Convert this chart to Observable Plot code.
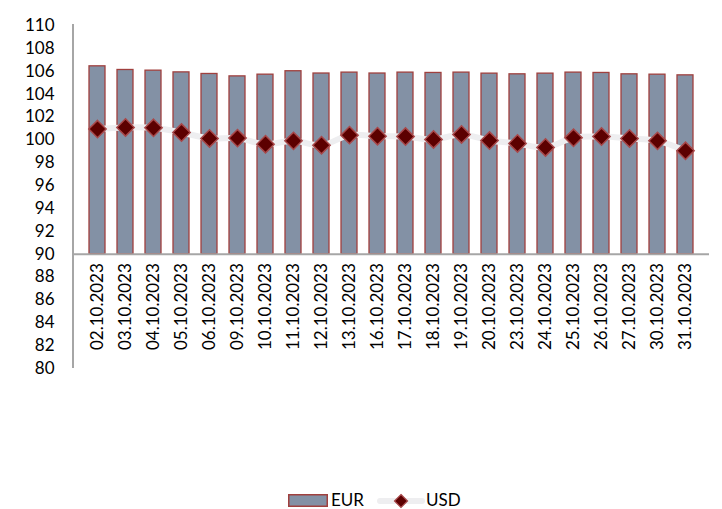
<!DOCTYPE html>
<html>
<head>
<meta charset="utf-8">
<script src="https://cdn.jsdelivr.net/npm/d3@7"></script>
<script src="https://cdn.jsdelivr.net/npm/@observablehq/plot@0.6"></script>
<style>
  html, body { margin: 0; padding: 0; background: #fff; }
  #wrap { position: relative; width: 722px; height: 509px; font-family: Lato, "Open Sans", sans-serif; }
  #legend { position: absolute; left: 0; top: 485px; }
</style>
</head>
<body>
<div id="wrap">
  <div id="chart"></div>
  <svg id="legend" width="722" height="24" font-family="Lato, 'Open Sans', sans-serif" font-size="17">
    <rect x="288.75" y="9.75" width="38.5" height="11.5" fill="#8391a5" stroke="#a0403e" stroke-width="1.5"></rect>
    <text x="331" y="21" fill="#000">EUR</text>
    <line x1="380" y1="16" x2="422" y2="16" stroke="#eeeef0" stroke-width="6" stroke-linecap="round"></line>
    <path d="M401,9.5 L407.5,16 L401,22.5 L394.5,16 Z" fill="#5c0000" stroke="#a8484a" stroke-width="1.2"></path>
    <text x="426" y="21" fill="#000">USD</text>
  </svg>
</div>
<script>
const dates = ["02.10.2023","03.10.2023","04.10.2023","05.10.2023","06.10.2023","09.10.2023","10.10.2023","11.10.2023","12.10.2023","13.10.2023","16.10.2023","17.10.2023","18.10.2023","19.10.2023","20.10.2023","23.10.2023","24.10.2023","25.10.2023","26.10.2023","27.10.2023","30.10.2023","31.10.2023"];
const eur = [106.43, 106.11, 106.05, 105.90, 105.76, 105.55, 105.70, 106.00, 105.80, 105.88, 105.80, 105.88, 105.85, 105.88, 105.79, 105.73, 105.79, 105.88, 105.85, 105.73, 105.70, 105.64];
const usd = [100.94, 101.08, 101.05, 100.64, 100.12, 100.15, 99.62, 99.91, 99.53, 100.41, 100.32, 100.29, 100.03, 100.47, 99.94, 99.68, 99.33, 100.18, 100.29, 100.12, 99.91, 99.04];
const yTicks = [80, 82, 84, 86, 88, 90, 92, 94, 96, 98, 100, 102, 104, 106, 108, 110];
const baseline = 90;

const data = dates.map((d, i) => ({date: d, eur: eur[i], usd: usd[i]}));

// vertical value-axis line at the left edge of the frame, spanning the full y range
function leftAxisLine(index, scales, values, dimensions) {
  const [y0, y1] = scales.y.range ? [scales.y(110), scales.y(80)] : [dimensions.marginTop, dimensions.height - dimensions.marginBottom];
  const x = dimensions.marginLeft;
  const line = document.createElementNS("http://www.w3.org/2000/svg", "line");
  line.setAttribute("x1", x); line.setAttribute("x2", x);
  line.setAttribute("y1", y0 - 1); line.setAttribute("y2", y1);
  line.setAttribute("stroke", "#a6a6a6");
  line.setAttribute("stroke-width", 2);
  return line;
}

const chart = Plot.plot({
  width: 722,
  height: 485,
  marginLeft: 73,
  marginRight: 13,
  marginTop: 25,
  marginBottom: 117,
  style: {fontFamily: "Lato, 'Open Sans', sans-serif", fontSize: "17px", color: "#000", background: "#fff"},
  x: {domain: dates, paddingInner: 0.42, paddingOuter: 0.21, axis: null},
  y: {domain: [80, 110]},
  marks: [
    Plot.barY(data, {x: "date", y1: () => baseline, y2: "eur", fill: "#8391a5", stroke: "#a0403e", strokeWidth: 1.3}),
    Plot.ruleY([baseline], {stroke: "#a6a6a6", strokeWidth: 2}),
    leftAxisLine,
    Plot.axisY({ticks: yTicks, tickSize: 0, tickPadding: 19, fontSize: 17, tickFormat: d => String(d)}),
    Plot.text(dates, {x: d => d, y: () => baseline, text: d => d, rotate: -90, textAnchor: "end", lineAnchor: "middle", dy: 9, fontSize: 17, fill: "#000"}),
    Plot.line(data, {x: "date", y: "usd", curve: "catmull-rom", stroke: "#eeeef0", strokeWidth: 6}),
    Plot.dot(data, {x: "date", y: "usd", symbol: "diamond2", r: 7.8, fill: "#5c0000", stroke: "#a8484a", strokeWidth: 1.5})
  ]
});
document.getElementById("chart").appendChild(chart);
</script>
</body>
</html>
